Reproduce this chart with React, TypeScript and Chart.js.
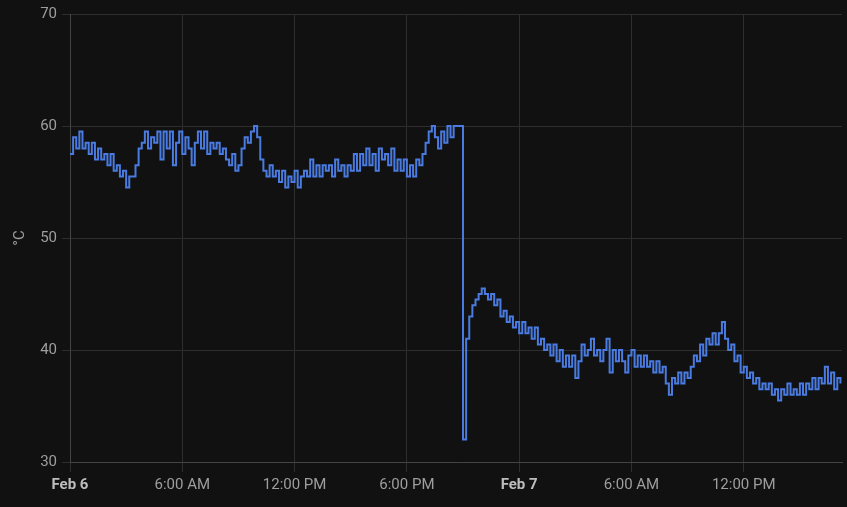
import React, { useEffect, useRef } from "react";
import { Chart, registerables } from "chart.js";

Chart.register(...registerables);

// Sampling: one reading every 10 minutes, starting Feb 6 00:00
const SAMPLE_MINUTES = 10;
const DAY_LABELS = ["Feb 6", "Feb 7"];
const Y_MIN = 30;
const Y_MAX = 70;
const X_MAX_HOURS = 41.25;

// Feb 6, 00:00 - 03:50
const feb6Night = [
  57.5, 59, 58, 59.5, 58, 58.5, 57.5, 58.5, 57, 58, 57, 57.5,
  56.5, 57.5, 56, 56.5, 55.5, 56, 54.5, 55.5, 55.5, 56.5, 58, 58.5,
];
// Feb 6, 04:00 - 10:00
const feb6Morning = [
  59.5, 58, 59, 58.5, 59.5, 57, 59.5, 58, 59.5, 56.5, 58.5, 59.5,
  57.5, 59, 58, 56.5, 58.5, 59.5, 58, 59.5, 57.5, 58.5, 58, 58.5,
  57.5, 58, 57, 56.5, 57.5, 56, 56.5, 58, 59, 58.5, 59.5, 60, 59,
];
// Feb 6, 10:10 - 20:50
const feb6Afternoon = [
  57, 56, 55.5, 56.5, 55.5, 56, 55, 56, 54.5, 55.5, 55, 56,
  54.5, 55.5, 56, 55.5, 57, 55.5, 56.5, 55.5, 56.5, 56, 56.5, 55.5,
  57, 56, 56.5, 55.5, 56.5, 56, 57.5, 56, 57.5, 56.5, 58, 56.5,
  57.5, 56, 58, 57, 57.5, 56.5, 58, 56, 57, 56, 57, 55.5,
  56.5, 55.5, 57, 56.5, 57.5, 58.5, 59.5, 60, 59, 58, 59.5, 58.5,
  60, 59, 60, 60, 60,
];
// Feb 6, 21:00 - Feb 7, 17:10
const afterDrop = [
  32, 41, 43, 44, 44.5, 45, 45.5, 45, 44.5, 45, 44, 44.5,
  43, 43.5, 42.5, 43, 42, 42.5, 41.5, 42.5, 41.5, 42, 41, 42,
  40.5, 41, 40, 40.5, 39.5, 40.5, 39, 40, 38.5, 39.5, 38.5, 39.5,
  37.5, 39, 40.5, 39.5, 40, 41, 39.5, 40, 39, 40, 41, 38,
  40, 39, 40, 39, 38, 39.5, 40, 38.5, 39.5, 38.5, 39.5, 38.5,
  39, 38, 39, 38, 38.5, 37, 36, 37.5, 37, 38, 37, 38,
  37.5, 38.5, 39.5, 39, 40.5, 39.5, 41, 40.5, 41.5, 40.5, 41.5, 42.5,
  41, 40, 40.5, 39, 39.5, 38, 38.5, 37.5, 38, 37, 37.5, 36.5,
  37, 36.5, 37, 36, 36.5, 35.5, 36.5, 36, 37, 36, 36.5, 36,
  37, 36, 37, 36.5, 37.5, 36.5, 37.5, 37, 38.5, 37, 38, 36.5,
  37.5, 37,
];

const temperatures = [...feb6Night, ...feb6Morning, ...feb6Afternoon, ...afterDrop];

function formatTick(hours: number): string {
  if (hours % 24 === 0) return DAY_LABELS[hours / 24] ?? "";
  const h = hours % 24;
  const suffix = h < 12 ? "AM" : "PM";
  const h12 = h % 12 === 0 ? 12 : h % 12;
  return `${h12}:00 ${suffix}`;
}

export default function App() {
  const canvasRef = useRef<HTMLCanvasElement | null>(null);

  useEffect(() => {
    const canvas = canvasRef.current;
    if (!canvas) return;
    const points = temperatures.map((v, i) => ({ x: (i * SAMPLE_MINUTES) / 60, y: v }));
    const chart = new Chart(canvas, {
      type: "line",
      data: {
        datasets: [
          {
            label: "Temperature",
            data: points,
            borderColor: "#4a7be0",
            backgroundColor: "#4a7be0",
            borderWidth: 2,
            pointRadius: 0,
            stepped: true,
            fill: false,
          },
        ],
      },
      options: {
        animation: false,
        responsive: false,
        parsing: false as any,
        layout: { padding: { top: 12, right: 5, left: 0, bottom: 0 } },
        plugins: {
          legend: { display: false },
          tooltip: { enabled: false },
        },
        scales: {
          x: {
            type: "linear",
            min: 0,
            max: X_MAX_HOURS,
            afterFit: (scale: any) => {
              scale.height = 45;
            },
            grid: {
              color: "#2e2e2e",
              tickLength: 10,
              tickColor: "#2e2e2e",
            },
            border: { color: "#444444" },
            ticks: {
              stepSize: 6,
              includeBounds: false,
              maxRotation: 0,
              autoSkip: false,
              padding: 4,
              callback: (v: any) => formatTick(Number(v)),
              color: (ctx: any) => (ctx.tick && ctx.tick.value % 24 === 0 ? "#bdbdbd" : "#9e9e9e"),
              font: (ctx: any) => ({
                family: "Roboto",
                size: 15,
                weight: ctx.tick && ctx.tick.value % 24 === 0 ? "bold" : "normal",
              }),
            },
          },
          y: {
            min: Y_MIN,
            max: Y_MAX,
            afterFit: (scale: any) => {
              scale.width = 70;
            },
            grid: {
              color: "#2e2e2e",
              tickLength: 8,
              tickColor: "#2e2e2e",
            },
            border: { color: "#444444" },
            ticks: {
              stepSize: 10,
              padding: 5,
              color: "#9e9e9e",
              font: { family: "Roboto", size: 15 },
            },
            title: {
              display: true,
              text: "°C",
              color: "#9e9e9e",
              font: { family: "Roboto", size: 15 },
              padding: { top: 11, bottom: 0 },
            },
          },
        },
      },
    });
    return () => chart.destroy();
  }, []);

  return (
    <div
      style={{
        position: "fixed",
        left: 0,
        top: 0,
        width: 847,
        height: 507,
        background: "#111111",
      }}
    >
      <canvas ref={canvasRef} width={847} height={507} style={{ display: "block" }} />
    </div>
  );
}
